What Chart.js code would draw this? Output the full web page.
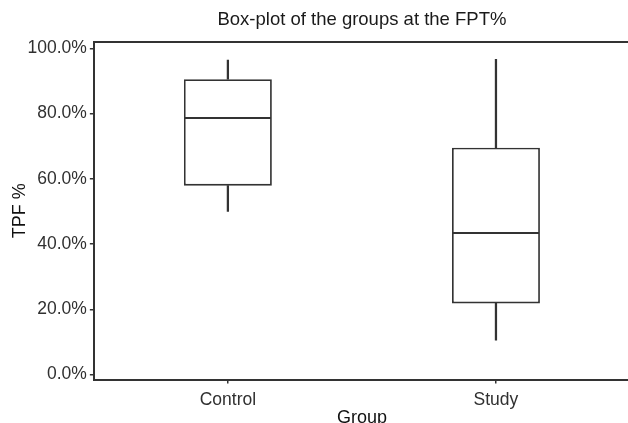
<!DOCTYPE html>
<html>
<head>
<meta charset="utf-8">
<script src="https://cdn.jsdelivr.net/npm/chart.js@4/dist/chart.umd.min.js"></script>
<style>
  html, body { margin: 0; padding: 0; background: #fff; overflow: hidden; }
  canvas { display: block; }
</style>
</head>
<body>
<canvas id="boxChart" width="630" height="423"></canvas>
<script>
// values (fractions, axis shows them as %)
const groups = ['Control', 'Study'];
const whiskerLow = [0.500, 0.105];
const q1 = [0.579, 0.218];
const median = [0.786, 0.434];
const q3 = [0.905, 0.695];
const whiskerHigh = [0.964, 0.966];
const yTicks = [0, 0.2, 0.4, 0.6, 0.8, 1.0];

const ink = '#333333';
const fontFamily = '"Liberation Sans", Arial, Helvetica, sans-serif';

const boxStyle = {
  type: 'bar',
  grouped: false,
  categoryPercentage: 1,
  barPercentage: 0.328,
  borderSkipped: false,
  borderColor: ink,
  backgroundColor: '#ffffff'
};
const whiskerStyle = {
  type: 'bar',
  grouped: false,
  barThickness: 1.6,
  borderWidth: 0,
  backgroundColor: ink
};

const ctx = document.getElementById('boxChart').getContext('2d');
new Chart(ctx, {
  type: 'bar',
  data: {
    labels: groups,
    datasets: [
      Object.assign({
        label: 'lower box',
        data: groups.map((g, i) => [q1[i], median[i]]),
        borderWidth: {top: 1, right: 1.8, bottom: 1.8, left: 1.8}
      }, boxStyle),
      Object.assign({
        label: 'upper box',
        data: groups.map((g, i) => [median[i], q3[i]]),
        borderWidth: {top: 1.8, right: 1.8, bottom: 1, left: 1.8}
      }, boxStyle),
      Object.assign({
        label: 'upper whisker',
        data: groups.map((g, i) => [q3[i], whiskerHigh[i]])
      }, whiskerStyle),
      Object.assign({
        label: 'lower whisker',
        data: groups.map((g, i) => [whiskerLow[i], q1[i]])
      }, whiskerStyle)
    ]
  },
  options: {
    responsive: false,
    animation: false,
    layout: { padding: 0 },
    plugins: {
      legend: { display: false },
      tooltip: { enabled: false },
      title: {
        display: true,
        text: 'Box-plot of the groups at the FPT%',
        fullSize: false,
        color: '#1a1a1a',
        font: { family: fontFamily, size: 18.5, weight: 'normal' },
        padding: { top: 8.5, bottom: 11.3 }
      }
    },
    scales: {
      x: {
        type: 'category',
        offset: true,
        grid: { display: true, offset: false, drawOnChartArea: false, drawTicks: true, tickLength: 4, color: ink, lineWidth: 1.5 },
        border: { display: true, color: ink, width: 2 },
        ticks: { color: '#303030', padding: 6.5, font: { family: fontFamily, size: 17.5 } },
        title: {
          display: true,
          text: 'Group',
          color: '#111',
          font: { family: fontFamily, size: 18, lineHeight: 1 },
          padding: { top: -8.5, bottom: -4 }
        }
      },
      xTop: {
        type: 'category',
        position: 'top',
        display: true,
        grid: { display: false, drawTicks: false },
        ticks: { display: false },
        border: { display: true, color: ink, width: 2 }
      },
      y: {
        type: 'linear',
        min: -0.0153,
        max: 1.0193,
        afterBuildTicks: (scale) => {
          scale.ticks = yTicks.map(v => ({ value: v }));
        },
        grid: { display: true, drawOnChartArea: false, drawTicks: true, tickLength: 4, color: ink, lineWidth: 1.5 },
        border: { display: true, color: ink, width: 2 },
        ticks: {
          color: '#303030',
          padding: 3,
          font: { family: fontFamily, size: 17.5 },
          callback: (v) => (v * 100).toFixed(1) + '%'
        },
        title: {
          display: true,
          text: 'TPF %',
          color: '#111',
          font: { family: fontFamily, size: 18, lineHeight: 1 },
          padding: { top: 11, bottom: -4.5 }
        }
      }
    }
  }
});
</script>
</body>
</html>
